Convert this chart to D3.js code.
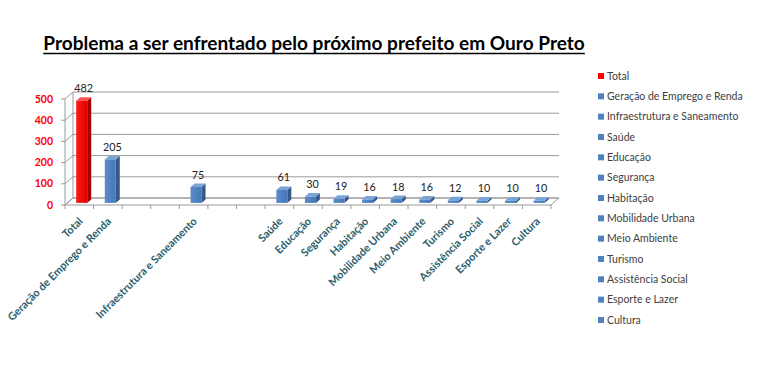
<!DOCTYPE html>
<html><head><meta charset="utf-8">
<script src="https://cdn.jsdelivr.net/npm/d3@7"></script>
<style>
body{margin:0;background:#fff;}
svg{display:block;}
text{font-family:Lato,"Open Sans",sans-serif;}
</style></head>
<body><svg id="c" width="768" height="371"></svg>
<script>
const title = "Problema a ser enfrentado pelo próximo prefeito em Ouro Preto";
// axis slots (blank strings are empty category positions on the axis)
const axisCategories = ["Total","Geração de Emprego e Renda","","","Infraestrutura e Saneamento","","","Saúde","Educação","Segurança","Habitação","Mobilidade Urbana","Meio Ambiente","Turismo","Assistência Social","Esporte e Lazer","Cultura"];
const seriesNames = ["Total","Geração de Emprego e Renda","Infraestrutura e Saneamento","Saúde","Educação","Segurança","Habitação","Mobilidade Urbana","Meio Ambiente","Turismo","Assistência Social","Esporte e Lazer","Cultura"];
const seriesValues = [482,205,75,61,30,19,16,18,16,12,10,10,10];
const yTicks = [0,100,200,300,400,500];

const svg = d3.select("#c");
const left=65,right=551,y0=205,yTop=99;
const DX=8, DY=-7; // depth offset of back wall
const x = d3.scaleBand().domain(d3.range(axisCategories.length)).range([left,right]).padding(0);
const y = d3.scaleLinear().domain([0,500]).range([y0,yTop]);
const grid="#9a9a9a";

// Title
const t = svg.append("text").attr("x",314).attr("y",50).attr("text-anchor","middle")
  .attr("font-weight","bold").attr("font-size",18).attr("fill","#000").text(title);
let tl = t.node().getComputedTextLength();
t.attr("font-size", 18*542/tl);
const bb = t.node().getBBox();
svg.append("line").attr("x1",bb.x).attr("x2",bb.x+bb.width).attr("y1",53.5).attr("y2",53.5)
  .attr("stroke","#000").attr("stroke-width",1.3);

const g = svg.append("g");
// floor
g.append("path").attr("d",`M${left},${y0}L${right},${y0}L${right+DX},${y0+DY}L${left+DX},${y0+DY}Z`)
  .attr("fill","#fff").attr("stroke",grid).attr("stroke-width",1);
// back wall gridlines and side wall lines
yTicks.forEach(v=>{
  const yy=y(v);
  g.append("line").attr("x1",left+DX).attr("x2",right+DX).attr("y1",yy+DY).attr("y2",yy+DY).attr("stroke",grid);
  g.append("line").attr("x1",left).attr("x2",left+DX).attr("y1",yy).attr("y2",yy+DY).attr("stroke",grid);
  g.append("line").attr("x1",left-4).attr("x2",left).attr("y1",yy).attr("y2",yy).attr("stroke",grid);
});
g.append("line").attr("x1",left+DX).attr("x2",left+DX).attr("y1",y(500)+DY).attr("y2",y0+DY).attr("stroke",grid);
g.append("line").attr("x1",left).attr("x2",left).attr("y1",y(500)).attr("y2",y0).attr("stroke",grid);
// category ticks
d3.range(axisCategories.length+1).forEach(i=>{
  const xx = left + i*x.bandwidth();
  g.append("line").attr("x1",xx).attr("x2",xx).attr("y1",y0).attr("y2",y0+4).attr("stroke",grid);
});
// y labels
yTicks.forEach(v=>{
  svg.append("text").attr("x",53).attr("y",y(v)+3.5).attr("text-anchor","end")
    .attr("font-size",10.5).attr("font-weight","bold").attr("fill","#ff0000").text(v);
});

// bars
const defs = svg.append("defs");
function grad(id,c1,c2){
  const gr=defs.append("linearGradient").attr("id",id).attr("x1","0").attr("x2","1").attr("y1","0").attr("y2","0");
  gr.append("stop").attr("offset","0").attr("stop-color",c1);
  gr.append("stop").attr("offset","1").attr("stop-color",c2);
}
grad("gRed","#ff1a1a","#e00000");
grad("gBlue","#5a8ccc","#4677b4");
const colors = seriesNames.map((n,i)=> i===0 ? {front:"url(#gRed)",side:"#a80000",top:"#ff5050",legend:"#ff0000"} : {front:"url(#gBlue)",side:"#34598a",top:"#7aa3d6",legend:"#4f81bd"});
const bw = 11, f0=0.3, f1=0.8;
seriesNames.forEach((name,i)=>{
  const slot = axisCategories.indexOf(name);
  const cx = x(slot)+x.bandwidth()/2 + DX*f0;
  const xl = cx-bw/2, xr=cx+bw/2;
  const yb = y0 + DY*f0, yt = y(seriesValues[i]) + DY*f0;
  const ox = DX*(f1-f0), oy = DY*(f1-f0);
  const c = colors[i];
  g.append("path").attr("d",`M${xr},${yb}L${xr+ox},${yb+oy}L${xr+ox},${yt+oy}L${xr},${yt}Z`).attr("fill",c.side);
  g.append("path").attr("d",`M${xl},${yt}L${xr},${yt}L${xr+ox},${yt+oy}L${xl+ox},${yt+oy}Z`).attr("fill",c.top);
  g.append("rect").attr("x",xl).attr("y",yt).attr("width",bw).attr("height",yb-yt).attr("fill",c.front);
  svg.append("text").attr("x",cx+2).attr("y",yt+oy-5).attr("text-anchor","middle")
    .attr("font-size",10.8).attr("fill","#222").text(seriesValues[i]);
});

// x labels
axisCategories.forEach((name,i)=>{
  if(!name) return;
  const cx = x(i)+x.bandwidth()/2;
  svg.append("text").attr("transform",`translate(${cx+4},${222}) rotate(-45)`)
    .attr("text-anchor","end").attr("font-size",10.8).attr("font-weight","bold")
    .attr("fill","#2b5e6c").text(name);
});

// legend
const lg = svg.append("g");
seriesNames.forEach((name,i)=>{
  const yy = 76 + i*20.33;
  lg.append("rect").attr("x",598).attr("y",yy-3).attr("width",6).attr("height",6).attr("fill",colors[i].legend);
  lg.append("text").attr("x",607).attr("y",yy+3.8).attr("font-size",10.5).attr("fill","#404040").text(name);
});
</script></body></html>
